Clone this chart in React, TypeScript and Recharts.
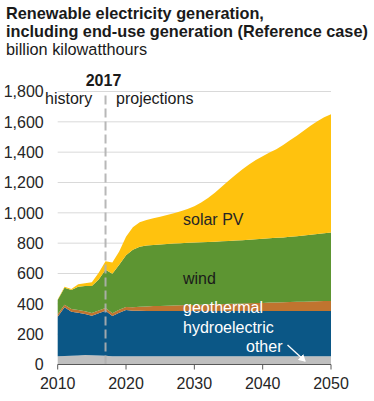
import React from 'react';
import { AreaChart, Area, XAxis, YAxis, CartesianGrid, ReferenceLine } from 'recharts';

const years = [2010,2011,2012,2013,2014,2015,2016,2017,2018,2019,2020,2021,2022,2023,2024,2025,2026,2027,2028,2029,2030,2031,2032,2033,2034,2035,2036,2037,2038,2039,2040,2041,2042,2043,2044,2045,2046,2047,2048,2049,2050];
const other = [55,56,58,60,62,61,59,57,55,55,55,55,55,55,55,55,55,55,55,55,55,55,55,55,55,55,55,55,55,55,55,55,55,55,55,55,55,55,55,55,55];
const hydro = [260,321,290,282,271,261,279,298,265,287,304,300,299,298,298,298,298,298,298,298,298,298,298,298,298,298,298,298,298,298,298,298,298,298,298,298,298,298,298,298,298];
const geothermal = [17,17,18,18,18,18,18,18,18,19,20,22,26,30,32,33,35,36,37,39,40,41,43,44,45,47,48,49,51,52,53,55,56,57,59,60,61,63,64,65,66];
const wind = [93,112,125,153,166,177,205,251,260,296,341,380,396,401,403,405,406,408,410,410,411,412,412,413,414,414,416,418,419,421,423,424,426,428,430,433,436,439,443,448,451];
const solar = [3,7,6,16,19,25,44,56,74,88,123,148,162,169,176,183,191,200,210,223,240,262,290,323,360,398,433,465,495,522,544,565,585,610,636,662,692,719,744,764,780];

const xTicks = [2010, 2020, 2030, 2040, 2050];
const yTicks = [0, 200, 400, 600, 800, 1000, 1200, 1400, 1600, 1800];

const data = years.map((y, i) => ({
  year: y,
  other: other[i],
  hydro: hydro[i],
  geothermal: geothermal[i],
  wind: wind[i],
  solar: solar[i],
}));

const FONT = '"Liberation Sans", Arial, sans-serif';

export default function App() {
  return (
    <div style={{ position: 'absolute', left: 0, top: 0, width: 374, height: 401, background: '#fff', fontFamily: FONT }}>
      <AreaChart
        width={374}
        height={401}
        data={data}
        margin={{ top: 91.5, right: 43, bottom: 6.5, left: 7.7 }}
      >
        <CartesianGrid vertical={false} stroke="#d9d9d9" strokeWidth={1} />
        <XAxis
          dataKey="year"
          type="number"
          domain={[2010, 2050]}
          ticks={xTicks}
          height={30}
          interval={0}
          tickSize={5}
          tickMargin={8}
          axisLine={{ stroke: '#595959', strokeWidth: 1 }}
          tickLine={{ stroke: '#595959', strokeWidth: 1 }}
          tick={{ fill: '#262626', fontSize: 16, fontFamily: FONT }}
        />
        <YAxis
          type="number"
          domain={[0, 1800]}
          ticks={yTicks}
          width={50}
          interval={0}
          tickSize={0}
          tickMargin={14}
          axisLine={false}
          tickLine={false}
          tickFormatter={(v: number) => v.toLocaleString('en-US')}
          tick={{ fill: '#262626', fontSize: 16, fontFamily: FONT }}
        />
        <Area type="linear" dataKey="other" stackId="1" stroke="none" fill="#BFBFBF" fillOpacity={1} isAnimationActive={false} />
        <Area type="linear" dataKey="hydro" stackId="1" stroke="none" fill="#0B5786" fillOpacity={1} isAnimationActive={false} />
        <Area type="linear" dataKey="geothermal" stackId="1" stroke="none" fill="#C0742F" fillOpacity={1} isAnimationActive={false} />
        <Area type="linear" dataKey="wind" stackId="1" stroke="none" fill="#5D9532" fillOpacity={1} isAnimationActive={false} />
        <Area type="linear" dataKey="solar" stackId="1" stroke="none" fill="#FFC20E" fillOpacity={1} isAnimationActive={false} />
        <ReferenceLine x={2017} stroke="#b0b0b0" strokeOpacity={0.9} strokeWidth={2} strokeDasharray="9 4" ifOverflow="extendDomain" />
      </AreaChart>
      <svg width={374} height={401} style={{ position: 'absolute', left: 0, top: 0, pointerEvents: 'none' }}>
        <defs>
          <marker id="arrowHead" markerWidth="8" markerHeight="8" refX="6" refY="4" orient="auto" markerUnits="userSpaceOnUse">
            <path d="M0,0 L7,4 L0,8 Z" fill="#ffffff" />
          </marker>
        </defs>
        <g fontFamily={FONT} fontSize={16}>
          <text x={6} y={18.5} fontSize={16.3} fontWeight="bold" fill="#1a1a1a">Renewable electricity generation,</text>
          <text x={6} y={37} fontSize={16.3} fontWeight="bold" fill="#1a1a1a">including end-use generation (Reference case)</text>
          <text x={6} y={55} fontSize={16.3} fill="#1a1a1a">billion kilowatthours</text>
          <text x={103.5} y={86.3} fontWeight="bold" textAnchor="middle" fill="#1a1a1a">2017</text>
          <text x={45} y={104} fill="#1a1a1a">history</text>
          <text x={116} y={104} fill="#1a1a1a">projections</text>
          <text x={183} y={225} fill="#262626">solar PV</text>
          <text x={183} y={284} fill="#1a1a1a">wind</text>
          <text x={183} y={313} fill="#ffffff">geothermal</text>
          <text x={183} y={333} fill="#ffffff">hydroelectric</text>
          <text x={246} y={352} fill="#ffffff">other</text>
        </g>
        <line x1={287.5} y1={345} x2={305} y2={361} stroke="#ffffff" strokeWidth={1.3} markerEnd="url(#arrowHead)" />
      </svg>
    </div>
  );
}
